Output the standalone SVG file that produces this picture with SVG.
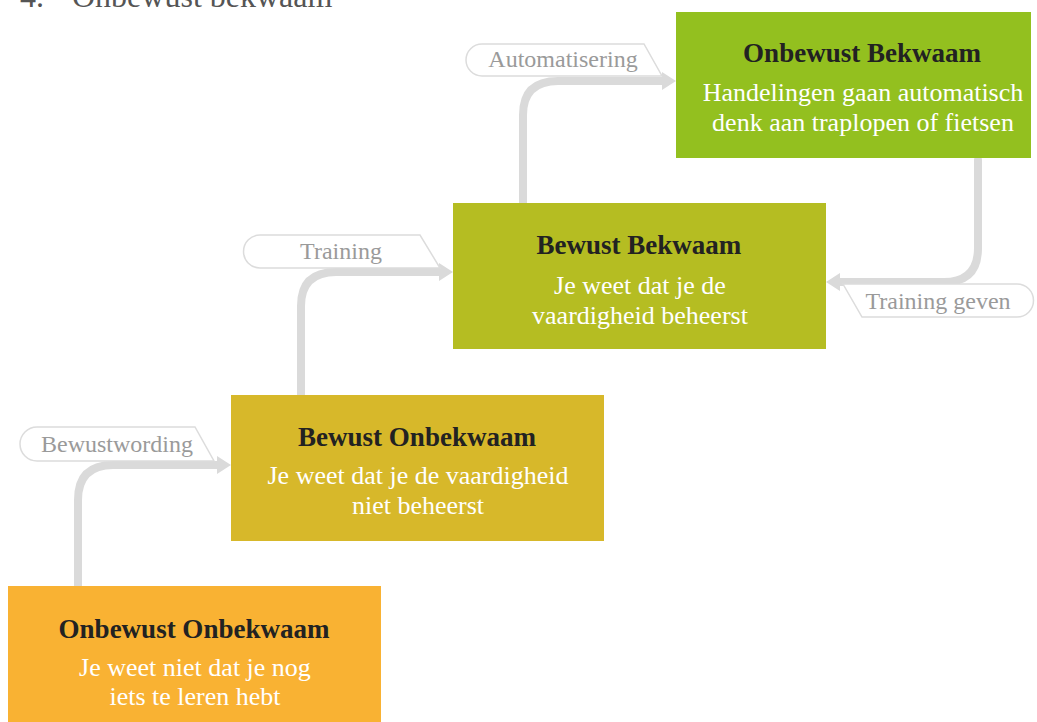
<svg xmlns="http://www.w3.org/2000/svg" width="1037" height="722" viewBox="0 0 1037 722">
<defs>
<style>
.t{font-family:"Liberation Serif",serif;font-size:27px;font-weight:bold;fill:#222;text-anchor:middle}
.b{font-family:"Liberation Serif",serif;font-size:26px;fill:#fff;text-anchor:middle}
.l{font-family:"Liberation Serif",serif;font-size:24px;fill:#9a9a9a;text-anchor:middle}
.lab{fill:#fff;stroke:#dcdcdc;stroke-width:1.5}
.c{fill:none;stroke:#dadada;stroke-width:8;stroke-linecap:round;stroke-linejoin:round}
.h{fill:#dadada}
</style>
</defs>
<rect width="1037" height="722" fill="#fff"/>
<text x="20" y="7" font-family="Liberation Serif,serif" font-size="32" fill="#555">4.</text>
<text x="72" y="7" font-family="Liberation Serif,serif" font-size="32" fill="#555">Onbewust bekwaam</text>
<g id="connectors">
<path class="c" d="M78,586 V500 Q78,465 113,465 H218"/>
<polygon class="h" points="217,456 231,465 217,474"/>
<path class="c" d="M301,396 V306 Q301,272 336,272 H440"/>
<polygon class="h" points="439,263 453,272 439,281"/>
<path class="c" d="M523,203 V115 Q523,81 558,81 H663"/>
<polygon class="h" points="662,72 676,81 662,90"/>
<path class="c" d="M978,160 V248 Q978,282 944,282 H839"/>
<polygon class="h" points="840,273 826,282 840,291"/>
</g>
<g id="label-bewustwording">
<path class="lab" d="M37,427 H195 L214,461 H37 A17,17 0 0 1 37,427 Z"/>
<text class="l" x="117" y="452">Bewustwording</text>
</g>
<g id="label-training">
<path class="lab" d="M260,235 H420 L440,268 H260 A16.5,16.5 0 0 1 260,235 Z"/>
<text class="l" x="341" y="259">Training</text>
</g>
<g id="label-automatisering">
<path class="lab" d="M482,44 H644 L662,76 H482 A16,16 0 0 1 482,44 Z"/>
<text class="l" x="563" y="67">Automatisering</text>
</g>
<g id="label-training-geven">
<path class="lab" d="M843,284 H1017 A16.5,16.5 0 0 1 1017,317 H862 Z"/>
<text class="l" x="938" y="309">Training geven</text>
</g>
<g id="node-onbewust-bekwaam">
<rect x="676" y="12" width="355" height="146" fill="#93c01f"/>
<text class="t" x="862" y="62">Onbewust Bekwaam</text>
<text class="b" x="863" y="101">Handelingen gaan automatisch</text>
<text class="b" x="863" y="131">denk aan traplopen of fietsen</text>
</g>
<g id="node-bewust-bekwaam">
<rect x="453" y="203" width="373" height="146" fill="#b5bd22"/>
<text class="t" x="639" y="254">Bewust Bekwaam</text>
<text class="b" x="640" y="294">Je weet dat je de</text>
<text class="b" x="640" y="324">vaardigheid beheerst</text>
</g>
<g id="node-bewust-onbekwaam">
<rect x="231" y="395" width="373" height="146" fill="#d7b82a"/>
<text class="t" x="417" y="446">Bewust Onbekwaam</text>
<text class="b" x="418" y="484">Je weet dat je de vaardigheid</text>
<text class="b" x="418" y="514">niet beheerst</text>
</g>
<g id="node-onbewust-onbekwaam">
<rect x="8" y="586" width="373" height="136" fill="#f9b233"/>
<text class="t" x="194" y="638">Onbewust Onbekwaam</text>
<text class="b" x="195" y="676">Je weet niet dat je nog</text>
<text class="b" x="195" y="705">iets te leren hebt</text>
</g>
</svg>
